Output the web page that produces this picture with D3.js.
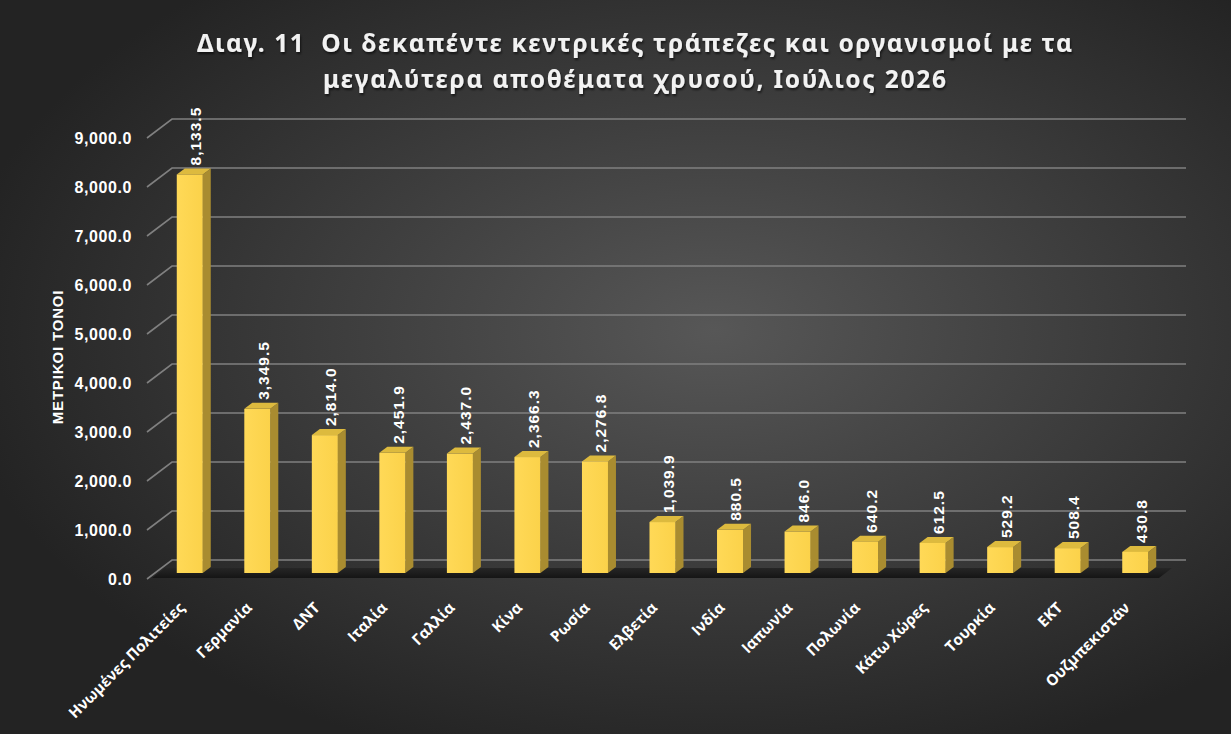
<!DOCTYPE html>
<html>
<head>
<meta charset="utf-8">
<script src="https://cdn.jsdelivr.net/npm/d3@7"></script>
<style>
  html, body { margin: 0; padding: 0; background: #2b2b2b; }
  svg { display: block; }
</style>
</head>
<body>
<div id="chart"></div>
<script>
// ============================
// Data
// ============================

const categories = ["Ηνωμένες Πολιτείες", "Γερμανία", "ΔΝΤ", "Ιταλία", "Γαλλία", "Κίνα", "Ρωσία",
  "Ελβετία", "Ινδία", "Ιαπωνία", "Πολωνία", "Κάτω Χώρες", "Τουρκία", "ΕΚΤ", "Ουζμπεκιστάν"];
const tonnes = [8133.5, 3349.5, 2814.0, 2451.9, 2437.0, 2366.3, 2276.8,
  1039.9, 880.5, 846.0, 640.2, 612.5, 529.2, 508.4, 430.8];
const yTicks = [0, 1000, 2000, 3000, 4000, 5000, 6000, 7000, 8000, 9000];
const titleLines = ["Διαγ. 11  Οι δεκαπέντε κεντρικές τράπεζες και οργανισμοί με τα",
  "μεγαλύτερα αποθέματα χρυσού, Ιούλιος 2026"];
const yTitle = "ΜΕΤΡΙΚΟΙ ΤΟΝΟΙ";

// ============================
// Intial setup
// ============================

const width = 1231, height = 734;
const data = categories.map((c, i) => ({name: c, value: tonnes[i]}));

const svg = d3.select("#chart").append("svg")
  .attr("width", width).attr("height", height)
  .attr("viewBox", [0, 0, width, height]);

const defs = svg.append("defs");

const bg = defs.append("radialGradient").attr("id", "bg")
  .attr("cx", "58%").attr("cy", "45%").attr("r", "62%");
bg.append("stop").attr("offset", "0%").attr("stop-color", "#575757");
bg.append("stop").attr("offset", "100%").attr("stop-color", "#232323");

const front = defs.append("linearGradient").attr("id", "barFront")
  .attr("x1", 0).attr("x2", 1).attr("y1", 0).attr("y2", 0);
front.append("stop").attr("offset", "0%").attr("stop-color", "#FFD957");
front.append("stop").attr("offset", "100%").attr("stop-color", "#FBD24A");

const floorGrad = defs.append("linearGradient").attr("id", "floor")
  .attr("x1", 0).attr("x2", 0).attr("y1", 0).attr("y2", 1);
floorGrad.append("stop").attr("offset", "0%").attr("stop-color", "#262626");
floorGrad.append("stop").attr("offset", "100%").attr("stop-color", "#151515");

const shadow = defs.append("filter").attr("id", "shadow")
  .attr("x", "-5%").attr("y", "-20%").attr("width", "110%").attr("height", "150%");
shadow.append("feDropShadow").attr("dx", 1).attr("dy", 2).attr("stdDeviation", 1.2)
  .attr("flood-color", "#000").attr("flood-opacity", 0.6);

svg.append("rect").attr("width", width).attr("height", height).attr("fill", "url(#bg)");

// ============================
// Scales (3D-ish layout)
// ============================

const depthX = 25, depthY = -19;   // wall depth
const frontBase = 579;             // y of value 0 on the front edge
const barBase = 573;               // bars sit a bit back from the front edge
const barDX = 8, barDY = -6;       // bar depth

const h = d3.scaleLinear().domain([0, 9000]).range([0, 441]);

const x = d3.scaleBand()
  .domain(categories)
  .range([156, 1169])
  .paddingInner(0.615)
  .paddingOuter(0.3075);

const wallLeft = 147, wallRight = 1161;

// ============================
// Grid, floor and axes
// ============================

const grid = svg.append("g")
  .attr("stroke", "#808080")
  .attr("stroke-width", 1.6)
  .attr("fill", "none");

grid.selectAll("path")
  .data(yTicks)
  .join("path")
  .attr("d", d => {
    const yf = frontBase - h(d);
    return `M${wallLeft},${yf} L${wallLeft + depthX},${yf + depthY} L${wallRight + depthX},${yf + depthY}`;
  });

// dark floor slab
svg.append("path")
  .attr("fill", "url(#floor)")
  .attr("d", `M${wallLeft + 5},${frontBase - 1} L${wallLeft + 18},${frontBase - 11} ` +
             `L${wallRight + 11},${frontBase - 11} L${wallRight - 2},${frontBase - 1} Z`);

svg.append("g")
  .attr("font-family", "'Liberation Sans', Arial, sans-serif")
  .attr("font-weight", "bold")
  .attr("font-size", 16)
  .attr("letter-spacing", 0.6)
  .attr("fill", "#fff")
  .attr("text-anchor", "end")
  .selectAll("text")
  .data(yTicks)
  .join("text")
  .attr("x", 132)
  .attr("y", d => frontBase - h(d))
  .attr("dy", "0.35em")
  .text(d => d3.format(",.1f")(d));

svg.append("text")
  .attr("transform", "translate(58,357) rotate(-90)")
  .attr("text-anchor", "middle")
  .attr("dy", "0.35em")
  .attr("font-family", "'Liberation Sans', Arial, sans-serif")
  .attr("font-weight", "bold")
  .attr("font-size", 15)
  .attr("letter-spacing", 0.8)
  .attr("fill", "#fff")
  .text(yTitle);

svg.append("g")
  .attr("font-family", "'Open Sans', 'Noto Sans', sans-serif")
  .attr("font-weight", "bold")
  .attr("font-size", 15.2)
  .attr("fill", "#fff")
  .attr("text-anchor", "end")
  .selectAll("text")
  .data(data)
  .join("text")
  .attr("transform", d => `translate(${x(d.name) + x.bandwidth() / 2 - 8},${605}) rotate(-45)`)
  .attr("dy", "0.35em")
  .text(d => d.name);

// ============================
// Bars
// ============================

const bars = svg.append("g")
  .selectAll("g")
  .data(data)
  .join("g");

const bw = x.bandwidth();

// side face
bars.append("path")
  .attr("fill", "#A98C30")
  .attr("d", d => {
    const x1 = x(d.name) + bw, yt = barBase - h(d.value);
    return `M${x1},${barBase} L${x1 + barDX},${barBase + barDY} L${x1 + barDX},${yt + barDY} L${x1},${yt} Z`;
  });

// top face
bars.append("path")
  .attr("fill", "#DDBA3E")
  .attr("d", d => {
    const x0 = x(d.name), yt = barBase - h(d.value);
    return `M${x0},${yt} L${x0 + barDX},${yt + barDY} L${x0 + bw + barDX},${yt + barDY} L${x0 + bw},${yt} Z`;
  });

// front face
bars.append("rect")
  .attr("fill", "url(#barFront)")
  .attr("x", d => x(d.name))
  .attr("y", d => barBase - h(d.value))
  .attr("width", bw)
  .attr("height", d => h(d.value));

// value labels
bars.append("text")
  .attr("transform", d => `translate(${x(d.name) + bw / 2 + 6},${barBase - h(d.value) - 9}) rotate(-90)`)
  .attr("dy", "0.35em")
  .attr("font-family", "'Liberation Sans', Arial, sans-serif")
  .attr("font-weight", "bold")
  .attr("font-size", 15.5)
  .attr("letter-spacing", 1)
  .attr("fill", "#fff")
  .text(d => d3.format(",.1f")(d.value));

// ============================
// Title
// ============================

const titleSpans = [[197, 1072, 52], [323, 946, 88]];

svg.append("g")
  .attr("font-family", "'Noto Sans', 'DejaVu Sans', sans-serif")
  .attr("font-weight", "bold")
  .attr("font-size", 24.5)
  .attr("fill", "#f2f2f2")
  .attr("filter", "url(#shadow)")
  .selectAll("text")
  .data(titleLines)
  .join("text")
  .attr("x", (d, i) => titleSpans[i][0])
  .attr("y", (d, i) => titleSpans[i][2])
  .attr("textLength", (d, i) => titleSpans[i][1] - titleSpans[i][0])
  .attr("lengthAdjust", "spacing")
  .attr("xml:space", "preserve")
  .style("white-space", "pre")
  .text(d => d);
</script>
</body>
</html>
